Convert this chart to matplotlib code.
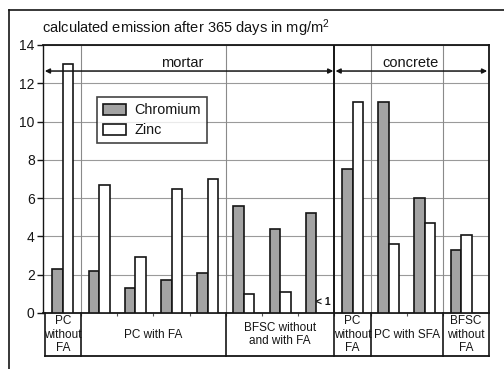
import matplotlib
matplotlib.use("Agg")
import matplotlib.pyplot as plt
import numpy as np

plt.rcParams['font.family'] = ['Liberation Sans', 'DejaVu Sans']
plt.rcParams['mathtext.fontset'] = 'custom'
plt.rcParams['mathtext.rm'] = 'Liberation Sans'
plt.rcParams['mathtext.it'] = 'Liberation Sans'

# ---- data ----
chromium = [2.3, 2.2, 1.3, 1.7, 2.1, 5.6, 4.4, 5.2, 7.5, 11.0, 6.0, 3.3]
zinc = [13.0, 6.7, 2.9, 6.5, 7.0, 1.0, 1.1, np.nan, 11.0, 3.6, 4.7, 4.1]
series_names = ["Chromium", "Zinc"]
group_labels = ["PC\nwithout\nFA", "PC with FA", "BFSC without\nand with FA",
                "PC\nwithout\nFA", "PC with SFA", "BFSC\nwithout\nFA"]
group_bounds = [-0.5, 0.5, 4.5, 7.5, 8.5, 10.5, 11.77]
section_labels = ["mortar", "concrete"]
y_ticks = [0, 2, 4, 6, 8, 10, 12, 14]
title = "calculated emission after 365 days in mg/m$^2$"

dark = "#151515"
fig = plt.figure(figsize=(5.04, 3.69), dpi=100)
ax = fig.add_axes([43/504, 1-313/369, (489-43)/504, (313-45)/369])

x = np.arange(len(chromium))
w = 0.29
ax.bar(x - w/2, chromium, w, color="#a3a3a3", edgecolor=dark, linewidth=1.2,
       label=series_names[0], zorder=3)
ax.bar(x + w/2, zinc, w, color="white", edgecolor=dark, linewidth=1.2,
       label=series_names[1], zorder=3)

ax.set_xlim(-0.55, 11.77)
ax.set_ylim(0, 14)
ax.set_yticks(y_ticks)
ax.tick_params(axis='y', length=4, width=1, pad=2, labelsize=10, colors=dark)
ax.set_xticks([b for b in group_bounds[1:-1]] + [1.5, 2.5, 3.5, 5.5, 6.5, 9.5])
ax.set_xticklabels([])
ax.tick_params(axis='x', length=2, width=0.8, colors="#555555")
for s in ax.spines.values():
    s.set_color(dark)
    s.set_linewidth(1.3)
ax.spines['left'].set_linewidth(1.0)
ax.yaxis.grid(True, color="#9a9a9a", linewidth=0.8, zorder=0)
ax.set_axisbelow(True)

# vertical separators
for b in group_bounds[1:-1]:
    if b == 7.5:
        ax.axvline(b, color=dark, linewidth=1.4, zorder=4)
    else:
        ax.axvline(b, color="#8a8a8a", linewidth=0.8, zorder=1)

# arrows for sections
ya = 12.64
ax.annotate("", xy=(-0.5, ya), xytext=(7.47, ya),
            arrowprops=dict(arrowstyle="<|-|>", color=dark, lw=1.1,
                            mutation_scale=7, shrinkA=0, shrinkB=0), zorder=5)
ax.annotate("", xy=(7.53, ya), xytext=(11.72, ya),
            arrowprops=dict(arrowstyle="<|-|>", color=dark, lw=1.1,
                            mutation_scale=7, shrinkA=0, shrinkB=0), zorder=5)
ax.text(3.29, 13.06, section_labels[0], ha='center', va='center', fontsize=10.5, color=dark)
ax.text(9.59, 13.06, section_labels[1], ha='center', va='center', fontsize=10.5, color=dark)

# "< 1" note for missing zinc value
ax.text(x[7] + w/2 + 0.05, 0.57, "< 1", ha='center', va='center', fontsize=7.5,
        color=dark, fontweight='bold')

# legend
leg = ax.legend(loc='upper left', bbox_to_anchor=(0.121, 0.806), borderaxespad=0,
                frameon=True, fancybox=False, fontsize=10.4, handlelength=1.6,
                handleheight=0.8, handletextpad=0.55, borderpad=0.42,
                labelspacing=0.42, edgecolor=dark)
leg.get_frame().set_linewidth(1.2)
leg.set_zorder(6)
for t in leg.get_texts():
    t.set_color(dark)

# table below the axes
tb = -43/268
trans = ax.get_xaxis_transform()
ax.plot([group_bounds[0], group_bounds[-1]], [tb, tb], color=dark, lw=1.3,
        transform=trans, clip_on=False)
for b in group_bounds:
    ax.plot([b, b], [0, tb], color=dark, lw=1.2, transform=trans, clip_on=False)
for i, lab in enumerate(group_labels):
    cx = (group_bounds[i] + group_bounds[i+1]) / 2
    ax.text(cx, tb/2, lab, transform=trans, ha='center', va='center',
            fontsize=8.5, color=dark, linespacing=1.22, clip_on=False)

# title
fig.text(42/504, 1-33/369, title, ha='left', va='baseline', fontsize=10.5, color=dark)

# outer frame (partially visible)
fig.add_artist(plt.Line2D([9/504, 1], [1-10/369, 1-10/369], color=dark, lw=1.2,
                          transform=fig.transFigure))
fig.add_artist(plt.Line2D([9/504, 9/504], [0, 1-10/369], color=dark, lw=1.2,
                          transform=fig.transFigure))

fig.savefig("out.png", dpi=100)
